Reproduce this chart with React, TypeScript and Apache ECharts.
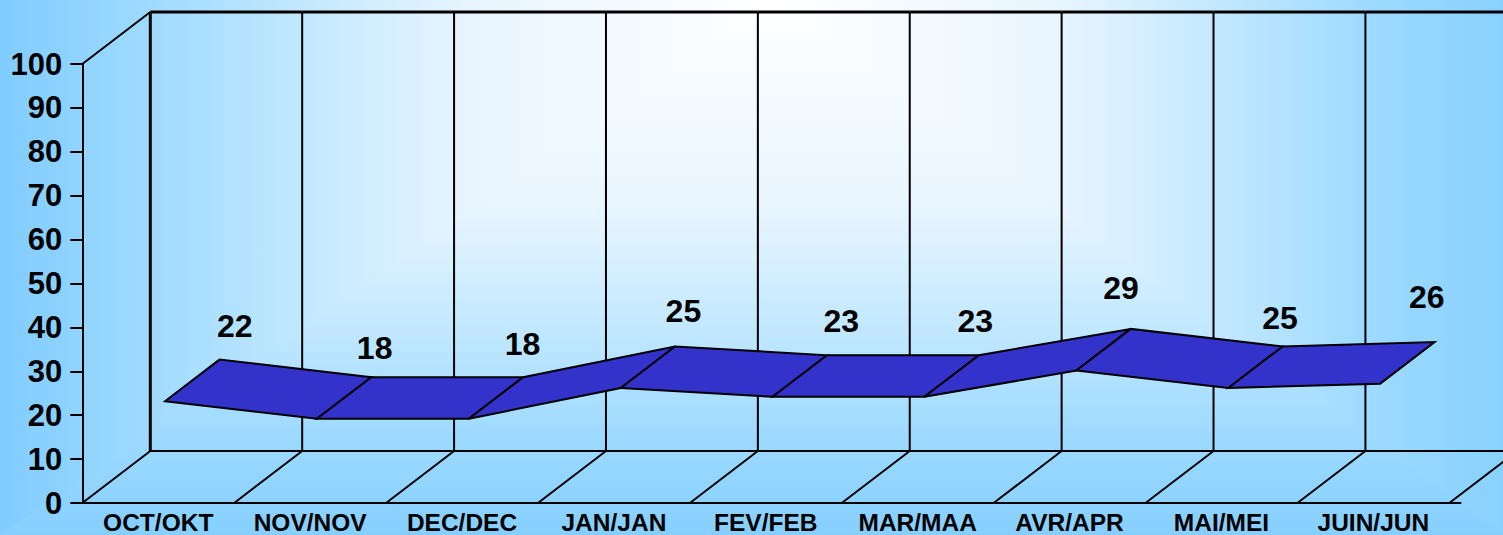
import React, { useEffect, useRef } from "react";
import * as echarts from "echarts";

const categories = ["OCT/OKT", "NOV/NOV", "DEC/DEC", "JAN/JAN", "FEV/FEB", "MAR/MAA", "AVR/APR", "MAI/MEI", "JUIN/JUN"];
const values = [22, 18, 18, 25, 23, 23, 29, 25, 26];
const yTicks = [0, 100];

// label nudges relative to each point (pixels), as placed by the original chart
const labelDx = [75, 63, 59, 68, 74, 56, 50, 57, 52];
const labelDy = [-80, -76, -80, -82, -81, -81, -88, -75, -92];

const DEPTH_X = 68;
const DEPTH_Y = 52;
const NEAR = 0.1;
const FAR = 0.9;
const W = 1503;
const H = 535;
const APEX_X = 775;
const AXIS_OVERHANG = 12;
const FONT = "Liberation Sans";

const ramp = (end: string) => [
  { offset: 0, color: "#ffffff" },
  { offset: 0.39, color: "#e8f5ff" },
  { offset: 0.6, color: "#c4e9ff" },
  { offset: 0.8, color: "#a0dbff" },
  { offset: 1, color: end },
];

const depth = (p: number[], d: number) => [p[0] + DEPTH_X * d, p[1] - DEPTH_Y * d];

const lineEl = (a: number[], b: number[], lineWidth = 2) => ({
  type: "line",
  shape: { x1: a[0], y1: a[1], x2: b[0], y2: b[1] },
  style: { stroke: "#000", lineWidth },
  silent: true,
});

export default function App() {
  const ref = useRef<HTMLDivElement>(null);
  useEffect(() => {
    document.body.style.margin = "0";
    const chart = echarts.init(ref.current!, null, { renderer: "svg" });
    chart.setOption({
      animation: false,
      graphic: [
        {
          type: "rect",
          z: 0,
          silent: true,
          shape: { x: 0, y: 0, width: W, height: H },
          style: { fill: new echarts.graphic.LinearGradient(0, 0, 0, H, ramp("#85cfff"), true) },
        },
        {
          type: "polygon",
          z: 0,
          silent: true,
          shape: { points: [[APEX_X, 0], [0, 0], [0, H]] },
          style: { fill: new echarts.graphic.LinearGradient(APEX_X, 0, 0, 0, ramp("#80ccff"), true) },
        },
        {
          type: "polygon",
          z: 0,
          silent: true,
          shape: { points: [[APEX_X, 0], [W, 0], [W, H]] },
          style: { fill: new echarts.graphic.LinearGradient(APEX_X, 0, W, 0, ramp("#88d1ff"), true) },
        },
      ],
      grid: { left: 82.3, top: 64, width: 1367, height: 439, containLabel: false, outerBoundsMode: "none" },
      xAxis: {
        type: "category",
        data: categories,
        boundaryGap: true,
        axisLine: { show: true, lineStyle: { color: "#000", width: 2 } },
        axisTick: { show: false },
        axisLabel: {
          color: "#000",
          fontFamily: FONT,
          fontWeight: "bold",
          fontSize: 24.5,
          lineHeight: 22,
          margin: 8.5,
          interval: 0,
        },
      },
      yAxis: {
        type: "value",
        min: yTicks[0],
        max: yTicks[1],
        interval: 10,
        splitLine: { show: false },
        axisLine: { show: true, lineStyle: { color: "#000", width: 2 } },
        axisTick: { show: true, length: 12, lineStyle: { color: "#000", width: 2 } },
        axisLabel: {
          color: "#000",
          fontFamily: FONT,
          fontWeight: "bold",
          fontSize: 31,
          margin: 20,
        },
      },
      series: [
        {
          type: "custom",
          z: 2,
          clip: false,
          silent: true,
          data: categories.map((_, i) => [i, 0]),
          encode: { x: 0, y: 1 },
          renderItem: (params: any, api: any) => {
            const i = params.dataIndex;
            const band = api.size([1, 0])[0];
            const c = api.coord([i, 0]);
            const top = api.coord([i, 100]);
            const left = [c[0] - band / 2, c[1]];
            const right = [c[0] + band / 2, c[1]];
            const leftTop = [top[0] - band / 2, top[1]];
            const rightTop = [top[0] + band / 2, top[1]];
            const bl = depth(left, 1);
            const br = depth(right, 1);
            const tl = depth(leftTop, 1);
            const tr = depth(rightTop, 1);
            const children: any[] = [
              lineEl(left, bl),
              lineEl(bl, tl, i === 0 ? 3 : 2),
              lineEl(bl, br),
              lineEl(tl, tr, 3),
            ];
            if (i === 0) children.push(lineEl(leftTop, tl));
            if (i === categories.length - 1) {
              children.push(lineEl(right, br));
              children.push(lineEl(right, [right[0] + AXIS_OVERHANG, right[1]]));
              children.push(lineEl(tr, [W, tr[1]], 3));
              children.push(lineEl(br, [W, br[1]]));
            }
            return { type: "group", children };
          },
        },
        {
          type: "custom",
          z: 3,
          clip: false,
          silent: true,
          data: values.slice(0, -1).map((v, i) => [i, v, values[i + 1]]),
          encode: { x: 0, y: 1 },
          renderItem: (params: any, api: any) => {
            const i = api.value(0);
            const a = api.coord([i, api.value(1)]);
            const b = api.coord([i + 1, api.value(2)]);
            return {
              type: "polygon",
              shape: { points: [depth(a, NEAR), depth(b, NEAR), depth(b, FAR), depth(a, FAR)] },
              style: { fill: "#3333cc", stroke: "#000", lineWidth: 2, lineJoin: "miter" },
            };
          },
        },
        {
          type: "custom",
          z: 4,
          clip: false,
          silent: true,
          data: values.map((v, i) => [i, v]),
          encode: { x: 0, y: 1 },
          renderItem: (params: any, api: any) => {
            const i = api.value(0);
            const p = api.coord([i, api.value(1)]);
            return {
              type: "text",
              x: p[0] + labelDx[i] + 1.5,
              y: p[1] + labelDy[i],
              style: {
                text: String(api.value(1)),
                fill: "#000",
                font: `bold 32px "${FONT}"`,
                align: "center",
                verticalAlign: "middle",
              },
            };
          },
        },
      ],
    });
    return () => chart.dispose();
  }, []);
  return <div ref={ref} style={{ width: W, height: H }} />;
}
